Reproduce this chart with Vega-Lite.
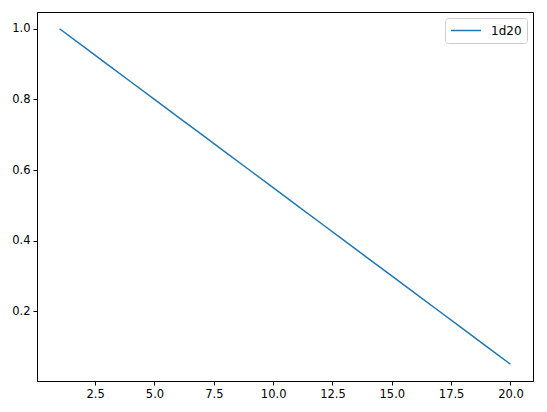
{
  "$schema": "https://vega.github.io/schema/vega-lite/v6.json",
  "autosize": "none",
  "width": 496,
  "height": 369,
  "padding": {"left": 37, "top": 12, "right": 14, "bottom": 31},
  "background": "white",
  "config": {
    "view": {"stroke": "black", "strokeWidth": 1},
    "font": "DejaVu Sans",
    "axis": {
      "grid": false,
      "domainColor": "black",
      "tickColor": "black",
      "tickSize": 4,
      "labelFontSize": 11.5,
      "labelColor": "black",
      "labelFont": "DejaVu Sans",
      "labelPadding": 3,
      "titleFontSize": 0
    }
  },
  "data": {
    "values": [
      {"x": 1, "y": 1.0, "s": "1d20"},
      {"x": 2, "y": 0.95, "s": "1d20"},
      {"x": 3, "y": 0.9, "s": "1d20"},
      {"x": 4, "y": 0.85, "s": "1d20"},
      {"x": 5, "y": 0.8, "s": "1d20"},
      {"x": 6, "y": 0.75, "s": "1d20"},
      {"x": 7, "y": 0.7, "s": "1d20"},
      {"x": 8, "y": 0.65, "s": "1d20"},
      {"x": 9, "y": 0.6, "s": "1d20"},
      {"x": 10, "y": 0.55, "s": "1d20"},
      {"x": 11, "y": 0.5, "s": "1d20"},
      {"x": 12, "y": 0.45, "s": "1d20"},
      {"x": 13, "y": 0.4, "s": "1d20"},
      {"x": 14, "y": 0.35, "s": "1d20"},
      {"x": 15, "y": 0.3, "s": "1d20"},
      {"x": 16, "y": 0.25, "s": "1d20"},
      {"x": 17, "y": 0.2, "s": "1d20"},
      {"x": 18, "y": 0.15, "s": "1d20"},
      {"x": 19, "y": 0.1, "s": "1d20"},
      {"x": 20, "y": 0.05, "s": "1d20"}
    ]
  },
  "mark": {"type": "line", "strokeWidth": 1.5, "clip": true},
  "encoding": {
    "x": {
      "field": "x",
      "type": "quantitative",
      "scale": {"domain": [0.05, 20.95], "nice": false, "zero": false},
      "axis": {"values": [2.5, 5, 7.5, 10, 12.5, 15, 17.5, 20], "format": ".1f", "title": null}
    },
    "y": {
      "field": "y",
      "type": "quantitative",
      "scale": {"domain": [0.0025, 1.0475], "nice": false, "zero": false},
      "axis": {"values": [0.2, 0.4, 0.6, 0.8, 1.0], "format": ".1f", "title": null}
    },
    "color": {
      "field": "s",
      "type": "nominal",
      "scale": {"range": ["#1f77b4"]},
      "legend": {
        "title": null,
        "orient": "top-right",
        "offset": 6,
        "symbolType": "stroke",
        "symbolSize": 900,
        "symbolStrokeWidth": 1.5,
        "labelFontSize": 12,
        "labelFont": "DejaVu Sans",
        "labelColor": "black",
        "strokeColor": "#cccccc",
        "cornerRadius": 3,
        "padding": 5,
        "clipHeight": 15,
        "fillColor": "white",
        "labelOffset": 9
      }
    }
  }
}
